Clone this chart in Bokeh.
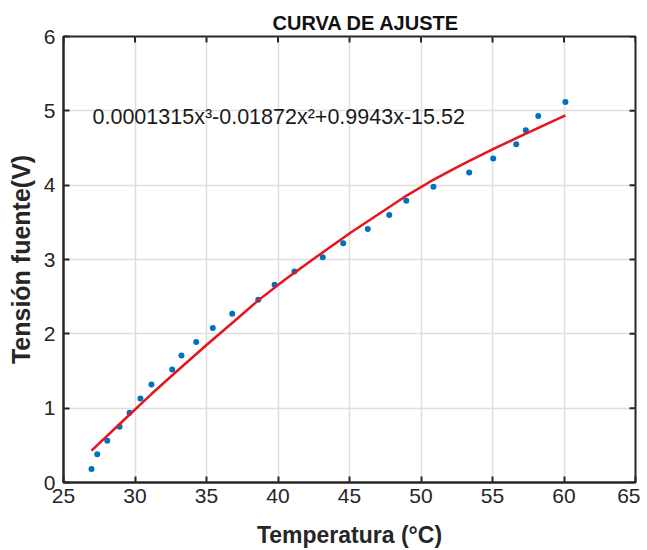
import math
from bokeh.plotting import figure
from bokeh.models import Range1d, FixedTicker, Label
from bokeh.embed import file_html
from bokeh.resources import INLINE

# Measured data (temperature °C, source voltage V)
temp = [26.96, 27.36, 28.06, 28.92, 29.62, 30.38, 31.15, 32.60, 33.25, 34.28,
        35.44, 36.80, 38.62, 39.76, 41.15, 43.13, 44.56, 46.28, 47.78, 48.97,
        50.87, 53.37, 55.05, 56.66, 57.33, 58.20, 60.10]
volt = [0.18, 0.38, 0.56, 0.75, 0.94, 1.13, 1.32, 1.52, 1.71, 1.89,
        2.08, 2.27, 2.46, 2.66, 2.84, 3.03, 3.22, 3.41, 3.60, 3.79,
        3.98, 4.17, 4.36, 4.55, 4.74, 4.93, 5.12]

# Fitted curve
fit_x = [26.96, 29.0, 31.15, 33.0, 35.0, 37.0, 38.62, 40.5, 42.5, 45.07,
         47.5, 49.0, 50.66, 52.0, 53.0, 55.0, 57.3, 60.1]
fit_y = [0.43, 0.80, 1.19, 1.51, 1.85, 2.18, 2.45, 2.73, 3.01, 3.36,
         3.67, 3.86, 4.05, 4.19, 4.29, 4.48, 4.69, 4.94]

x_ticks = [25, 30, 35, 40, 45, 50, 55, 60, 65]
y_ticks = [0, 1, 2, 3, 4, 5, 6]

title_text = "CURVA DE AJUSTE"
x_label = "Temperatura (°C)"
y_label = "Tensión fuente(V)"
equation = "0.0001315x³-0.01872x²+0.9943x-15.52"

FONT = "Liberation Sans"
DARK = "#262626"

X0, X1, Y0, Y1 = 25, 65, 0, 6

p = figure(width=640, height=550, x_range=Range1d(X0, X1), y_range=Range1d(Y0, Y1),
           output_backend="svg", toolbar_location=None,
           min_border_left=63, min_border_right=5, min_border_top=36, min_border_bottom=68)

p.title.text = title_text
p.title.align = "left"
p.title.offset = 209
p.title.text_font = FONT
p.title.text_font_size = "20px"
p.title.text_font_style = "bold"
p.title.text_color = "#111111"
p.title.standoff = 6

for ax in (p.xaxis[0], p.yaxis[0]):
    ax.axis_line_color = DARK
    ax.axis_line_width = 2
    ax.major_tick_in = 6
    ax.major_tick_out = 0
    ax.major_tick_line_width = 2
    ax.major_tick_line_color = DARK
    ax.minor_tick_line_color = None
    ax.major_label_text_font = FONT
    ax.major_label_text_font_size = "21px"
    ax.major_label_text_color = DARK
    ax.axis_label_text_font = FONT
    ax.axis_label_text_font_style = "bold"
    ax.axis_label_text_color = DARK

p.xaxis[0].ticker = FixedTicker(ticks=x_ticks)
p.yaxis[0].ticker = FixedTicker(ticks=y_ticks)
p.xaxis[0].axis_label = x_label
p.yaxis[0].axis_label = y_label
p.xaxis[0].axis_label_text_font_size = "23px"
p.yaxis[0].axis_label_text_font_size = "25px"
p.xaxis[0].major_label_standoff = 6
p.yaxis[0].major_label_standoff = 8
p.xaxis[0].axis_label_standoff = 16
p.yaxis[0].axis_label_standoff = 6

p.xgrid.ticker = FixedTicker(ticks=x_ticks)
p.ygrid.ticker = FixedTicker(ticks=y_ticks)
p.grid.grid_line_color = "#dedede"
p.grid.grid_line_width = 1.5
p.outline_line_color = DARK
p.outline_line_width = 2

# box ticks on the top and right edges (clipped to the frame, so they point inward)
p.scatter(x_ticks, [Y1] * len(x_ticks), marker="dash", angle=math.pi / 2, size=12,
          line_color=DARK, line_width=2)
p.scatter([X1] * len(y_ticks), y_ticks, marker="dash", size=12,
          line_color=DARK, line_width=2)

p.scatter(temp, volt, size=6, color="#0072BD", line_color=None)
p.line(fit_x, fit_y, line_color="#e8141c", line_width=2.5, line_join="round")

p.add_layout(Label(x=27.03, y=4.92, text=equation, text_font=FONT, text_font_size="21.5px",
                   text_color="#1a1a1a", text_align="left", text_baseline="middle"))

open("out.html", "w").write(file_html(p, INLINE))
